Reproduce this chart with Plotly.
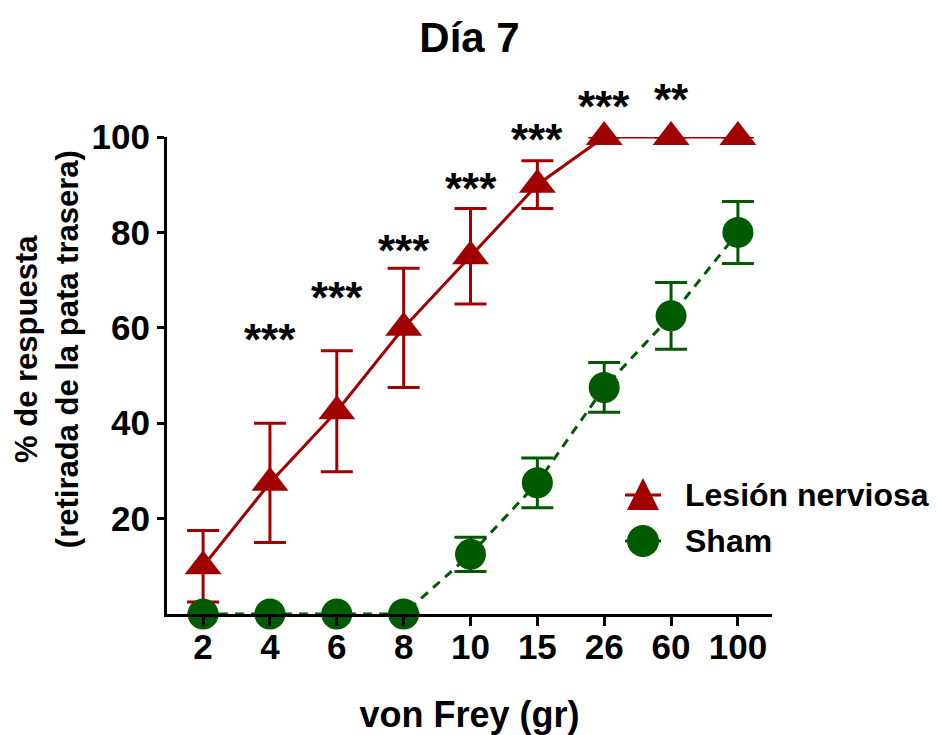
import plotly.graph_objects as go

# ---- data ----
categories = ["2", "4", "6", "8", "10", "15", "26", "60", "100"]
lesion_mean = [10, 27.5, 42.5, 60, 75, 90, 100, 100, 100]
lesion_err = [7.5, 12.5, 12.7, 12.5, 10, 5, 0, 0, 0]
sham_mean = [0, 0, 0, 0, 12.5, 27.5, 47.5, 62.5, 80]
sham_err = [0, 0, 0, 0, 3.6, 5.2, 5.2, 7, 6.5]
sig_categories = ["4", "6", "8", "10", "15", "26", "60"]
sig_labels = ["***", "***", "***", "***", "***", "***", "**"]
sig_y = [57.5, 66.3, 76.2, 89.2, 99.5, 106.3, 107.8]
y_ticks = [20, 40, 60, 80, 100]
y_range = [0, 100]
series_names = ["Lesión nerviosa", "Sham"]

RED = "#A00000"
GREEN = "#005A00"
FONT = "Liberation Sans, Arial, sans-serif"

fig = go.Figure()
fig.add_trace(go.Scatter(
    x=categories, y=lesion_mean, name=series_names[0],
    mode="lines+markers", showlegend=False,
    line=dict(color=RED, width=3),
    marker=dict(symbol="triangle-up", size=32, color=RED),
    error_y=dict(type="data", array=lesion_err, visible=True,
                 color=RED, thickness=3, width=16),
    cliponaxis=False,
))
fig.add_trace(go.Scatter(
    x=categories, y=sham_mean, name=series_names[1],
    mode="lines+markers", showlegend=False,
    line=dict(color=GREEN, width=3, dash="9px,7px"),
    marker=dict(symbol="circle", size=31, color=GREEN),
    error_y=dict(type="data", array=sham_err, visible=True,
                 color=GREEN, thickness=3, width=16),
    cliponaxis=False,
))

# significance stars: x on the category axis (index), y converted from data
# units to paper units so labels above the axis range are still drawn
for c, lab, yv in zip(sig_categories, sig_labels, sig_y):
    fig.add_annotation(x=categories.index(c), xref="x",
                       y=(yv - y_range[0]) / (y_range[1] - y_range[0]), yref="paper",
                       text=lab, showarrow=False, yanchor="middle",
                       font=dict(family=FONT, size=44, color="black", weight="bold"))

# y-axis title (two lines)
fig.add_annotation(
    text="% de respuesta<br>(retirada de la pata trasera)",
    xref="paper", yref="paper", x=-0.198, y=0.5556,
    xanchor="center", yanchor="middle", textangle=-90, showarrow=False,
    font=dict(family=FONT, size=31, color="black", weight="bold"),
)

# ---- legend (drawn with pixel-sized shapes so symbols match the plot markers) ----
leg_x = 0.7868
leg_rows = [0.2495, 0.1530]
leg_text_x = 0.8529
for yy, col in [(leg_rows[0], RED), (leg_rows[1], GREEN)]:
    fig.add_shape(type="line", xref="paper", yref="paper",
                  xsizemode="pixel", xanchor=leg_x, x0=-18, x1=18,
                  y0=yy, y1=yy, line=dict(color=col, width=3))
fig.add_shape(type="path", xref="paper", yref="paper",
              xsizemode="pixel", ysizemode="pixel", xanchor=leg_x, yanchor=leg_rows[0],
              path="M-16,-15 L16,-15 L0,17 Z", fillcolor=RED, line=dict(width=0))
fig.add_shape(type="circle", xref="paper", yref="paper",
              xsizemode="pixel", ysizemode="pixel", xanchor=leg_x, yanchor=leg_rows[1],
              x0=-16, x1=16, y0=-16, y1=16, fillcolor=GREEN, line=dict(width=0))
for yy, name in zip(leg_rows, series_names):
    fig.add_annotation(text=name, xref="paper", yref="paper", x=leg_text_x, y=yy,
                       xanchor="left", yanchor="middle", showarrow=False,
                       font=dict(family=FONT, size=32, color="black", weight="bold"))

fig.update_layout(
    width=938, height=735,
    margin=dict(l=167, r=166, t=137, b=121, autoexpand=False),
    paper_bgcolor="white", plot_bgcolor="white",
    font=dict(family=FONT, color="black"),
    title=dict(text="Día 7", x=0.5, xref="paper", xanchor="center",
               y=1 - 37 / 735, yref="container", yanchor="middle",
               font=dict(family=FONT, size=42, color="black", weight="bold")),
    showlegend=False,
    xaxis=dict(type="category", categoryorder="array", categoryarray=categories,
               range=[-0.54, 8.51], showline=True, linecolor="black", linewidth=3,
               ticks="outside", ticklen=9, tickwidth=3, tickcolor="black",
               showgrid=False, zeroline=False, automargin=False,
               ticklabelstandoff=-9,
               tickfont=dict(family=FONT, size=35, color="black", weight="bold"),
               title=dict(text="von Frey (gr)", standoff=38,
                          font=dict(family=FONT, size=36, color="black", weight="bold"))),
    yaxis=dict(range=y_range, tickvals=y_ticks, showline=True, linecolor="black",
               linewidth=3, ticks="outside", ticklen=7, tickwidth=3, tickcolor="black",
               showgrid=False, zeroline=False, automargin=False,
               tickfont=dict(family=FONT, size=35, color="black", weight="bold")),
)

fig.write_html("out.html")
